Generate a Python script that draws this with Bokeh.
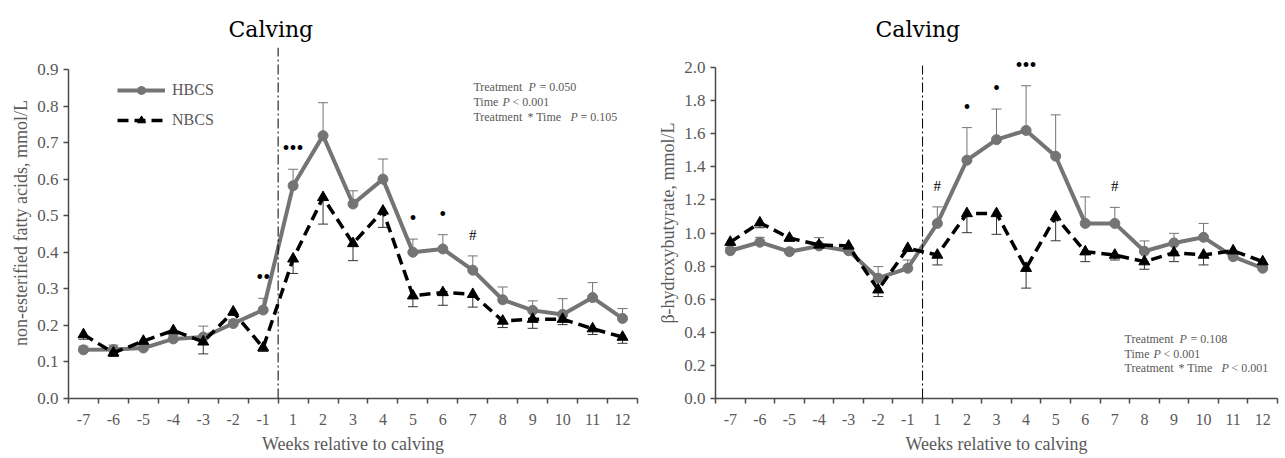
from bokeh.plotting import figure
from bokeh.layouts import row
from bokeh.models import (Range1d, FixedTicker, NumeralTickFormatter, Label, Legend,
                          LegendItem, Whisker, TeeHead, Arrow, ColumnDataSource)
from bokeh.core.properties import value
from bokeh.embed import file_html
from bokeh.resources import INLINE

# ---------------- data ----------------
weeks = ["-7", "-6", "-5", "-4", "-3", "-2", "-1", "1", "2", "3", "4",
         "5", "6", "7", "8", "9", "10", "11", "12"]

nefa_hbcs = [0.133, 0.134, 0.138, 0.163, 0.168, 0.205, 0.242, 0.582, 0.719, 0.532,
             0.600, 0.400, 0.409, 0.351, 0.270, 0.241, 0.230, 0.276, 0.219]
nefa_hbcs_se = [0.010, 0.012, 0.010, 0.010, 0.030, 0.010, 0.032, 0.045, 0.090, 0.036,
                0.055, 0.036, 0.039, 0.039, 0.035, 0.026, 0.043, 0.041, 0.027]
nefa_nbcs = [0.175, 0.125, 0.157, 0.186, 0.155, 0.237, 0.139, 0.382, 0.550, 0.424,
             0.513, 0.281, 0.290, 0.285, 0.212, 0.217, 0.217, 0.191, 0.168]
nefa_nbcs_se = [0.013, 0.010, 0.010, 0.010, 0.033, 0.010, 0.010, 0.040, 0.073, 0.047,
                0.045, 0.030, 0.035, 0.035, 0.018, 0.025, 0.015, 0.016, 0.017]

bhb_hbcs = [0.893, 0.944, 0.887, 0.922, 0.893, 0.727, 0.787, 1.058, 1.440, 1.564,
            1.620, 1.464, 1.058, 1.058, 0.890, 0.940, 0.974, 0.857, 0.787]
bhb_hbcs_se = [0.020, 0.030, 0.020, 0.050, 0.020, 0.070, 0.050, 0.100, 0.197, 0.185,
               0.270, 0.250, 0.160, 0.097, 0.062, 0.058, 0.084, 0.020, 0.020]
bhb_nbcs = [0.945, 1.062, 0.970, 0.928, 0.922, 0.657, 0.908, 0.867, 1.118, 1.118,
            0.787, 1.098, 0.887, 0.867, 0.827, 0.881, 0.867, 0.893, 0.827]
bhb_nbcs_se = [0.020, 0.030, 0.020, 0.020, 0.020, 0.041, 0.020, 0.060, 0.116, 0.126,
               0.120, 0.145, 0.060, 0.030, 0.046, 0.054, 0.060, 0.020, 0.020]

nefa_sig_weeks = ["-1", "1", "5", "6", "7"]
nefa_sig_marks = ["••", "•••", "•", "•", "#"]
bhb_sig_weeks = ["1", "2", "3", "4", "7"]
bhb_sig_marks = ["#", "•", "•", "•••", "#"]

nefa_ticks = [0.0, 0.1, 0.2, 0.3, 0.4, 0.5, 0.6, 0.7, 0.8, 0.9]
bhb_ticks = [0.0, 0.2, 0.4, 0.6, 0.8, 1.0, 1.2, 1.4, 1.6, 1.8, 2.0]

# each stats line: pieces of text (the "P" is italic)
nefa_stats = [["Treatment", "P", "= 0.050"], ["Time", "P", "< 0.001"],
              ["Treatment", "* Time", "P", "= 0.105"]]
bhb_stats = [["Treatment", "P", "= 0.108"], ["Time", "P", "< 0.001"],
             ["Treatment", "* Time", "P", "< 0.001"]]

series_names = ["HBCS", "NBCS"]

# ---------------- styling ----------------
GRAY = "#747474"
TXT = "#595959"
AX = "#4a4a4a"
SERIF = "Liberation Serif"
STAT_OFFSETS = [[0, 55, 66], [0, 29, 39], [0, 54, 97, 107]]

xs = list(range(len(weeks)))
calving_x = weeks.index("1") - 0.5


def panel(width, bl, br, y_end, ticks, hb, hb_se, nb, nb_se, ylabel,
          sig_w, sig_m, stats, stats_xy, stats_dy, dash_y1, with_legend):
    p = figure(width=width, height=458, output_backend="svg", toolbar_location=None,
               x_range=Range1d(-0.5, len(weeks) - 0.5), y_range=Range1d(0, y_end),
               min_border_left=bl, min_border_right=br, min_border_top=47,
               min_border_bottom=60)
    p.outline_line_color = None
    p.grid.visible = False

    # title ("Calving")
    p.title.text = "Calving"
    p.title.align = "left"
    p.title.offset = 160
    p.title.standoff = 11
    p.title.text_font = "DejaVu Serif"
    p.title.text_font_size = "22px"
    p.title.text_font_style = "normal"
    p.title.text_color = "black"

    # axes
    p.xaxis.ticker = FixedTicker(ticks=xs, minor_ticks=[i - 0.5 for i in range(len(weeks) + 1)])
    p.xaxis.major_label_overrides = {i: w for i, w in enumerate(weeks)}
    p.xaxis.major_tick_out = 5
    p.xaxis.minor_tick_out = 5
    p.xaxis.minor_tick_in = 0
    p.xaxis.minor_tick_line_color = AX
    p.xaxis.minor_tick_line_width = 1.5
    p.xaxis.major_label_standoff = 10
    p.xaxis.major_label_text_font_size = "16px"
    p.xaxis.axis_label = "Weeks relative to calving"
    p.xaxis.axis_label_standoff = 6
    p.yaxis.ticker = FixedTicker(ticks=ticks)
    p.yaxis.formatter = NumeralTickFormatter(format="0.0")
    p.yaxis.bounds = (ticks[0], ticks[-1])
    p.yaxis.major_tick_out = 5
    p.yaxis.major_tick_in = 0
    p.yaxis.minor_tick_line_color = None
    p.yaxis.major_label_standoff = 5
    p.yaxis.major_label_text_font_size = "17px"
    p.yaxis.axis_label = ylabel
    p.yaxis.axis_label_standoff = 3
    for ax in (p.xaxis, p.yaxis):
        ax.axis_line_color = AX
        ax.axis_line_width = 1.5
        ax.major_tick_line_width = 1.5
        ax.major_label_text_font = SERIF
        ax.major_label_text_color = TXT
        ax.axis_label_text_font = SERIF
        ax.axis_label_text_font_size = "18px"
        ax.axis_label_text_font_style = "normal"
        ax.axis_label_text_color = TXT
    p.xaxis.major_tick_line_color = None
    p.yaxis.major_tick_line_color = AX

    # calving line
    p.add_layout(Arrow(end=None, x_start=calving_x, y_start=0, x_end=calving_x,
                       y_end=dash_y1, line_color="black", line_width=1,
                       line_dash="10 3 2 3"))

    # error bars
    src_h = ColumnDataSource(dict(x=xs, lo=hb, up=[v + s for v, s in zip(hb, hb_se)]))
    src_n = ColumnDataSource(dict(x=xs, lo=[v - s for v, s in zip(nb, nb_se)], up=nb))
    p.add_layout(Whisker(source=src_h, base="x", lower="lo", upper="up",
                         line_color=GRAY, line_width=1, level="underlay",
                         upper_head=TeeHead(size=10, line_color=GRAY, line_width=1),
                         lower_head=None))
    p.add_layout(Whisker(source=src_n, base="x", lower="lo", upper="up",
                         line_color="#333333", line_width=1, level="underlay",
                         lower_head=TeeHead(size=10, line_color="#333333", line_width=1),
                         upper_head=None))

    # series
    l_h = p.line(xs, hb, line_color=GRAY, line_width=4)
    s_h = p.scatter(xs, hb, marker="circle", size=10, color=GRAY)
    l_n = p.line(xs, nb, line_color="black", line_width=3.5, line_dash="11 6")
    s_n = p.scatter(xs, nb, marker="triangle", size=11, color="black")

    if with_legend:
        leg = Legend(items=[LegendItem(label=series_names[0], renderers=[l_h, s_h]),
                            LegendItem(label=series_names[1], renderers=[l_n, s_n])],
                     location=(49, 268), border_line_color=None, background_fill_alpha=0,
                     glyph_width=48, glyph_height=20, label_height=20, spacing=10,
                     padding=0, margin=0, label_standoff=7,
                     label_text_font=SERIF, label_text_font_size="16px",
                     label_text_color=TXT)
        p.add_layout(leg)

    # significance marks
    idx = [weeks.index(w) for w in sig_w]
    ys = [hb[i] + hb_se[i] for i in idx]
    bx = [i for i, m in zip(idx, sig_m) if m != "#"]
    by = [y for y, m in zip(ys, sig_m) if m != "#"]
    bt_ = [m for m in sig_m if m != "#"]
    hx = [i for i, m in zip(idx, sig_m) if m == "#"]
    hy = [y for y, m in zip(ys, sig_m) if m == "#"]
    ht = [m for m in sig_m if m == "#"]
    p.text(bx, by, text=bt_, y_offset=-21, text_align="center", text_baseline="middle",
           text_font=value(SERIF), text_font_size="20px", text_color="black")
    p.text(hx, hy, text=ht, y_offset=-21, text_align="center", text_baseline="middle",
           text_font=value(SERIF), text_font_size="15px", text_color="black")

    # statistics text
    for k, pieces in enumerate(stats):
        yk = stats_xy[1] - k * stats_dy
        for txt, off in zip(pieces, STAT_OFFSETS[k]):
            p.add_layout(Label(x=stats_xy[0], y=yk, x_offset=off, text=txt,
                               text_font=SERIF, text_font_size="12px",
                               text_font_style="italic" if txt == "P" else "normal",
                               text_color=TXT, text_align="left", text_baseline="middle"))
    return p


left = panel(645, 68, 8, 0.96, nefa_ticks, nefa_hbcs, nefa_hbcs_se, nefa_nbcs,
             nefa_nbcs_se, "non-esterified fatty acids, mmol/L",
             nefa_sig_weeks, nefa_sig_marks, nefa_stats, (13.02, 0.853), 0.042, 0.96, True)
right = panel(639, 70, 7, 2.121, bhb_ticks, bhb_hbcs, bhb_hbcs_se, bhb_nbcs,
              bhb_nbcs_se, "β-hydroxybutyrate, mmol/L",
              bhb_sig_weeks, bhb_sig_marks, bhb_stats, (13.33, 0.3625), 0.0906, 2.012, False)

layout = row(left, right)
open("out.html", "w").write(file_html(layout, INLINE))
